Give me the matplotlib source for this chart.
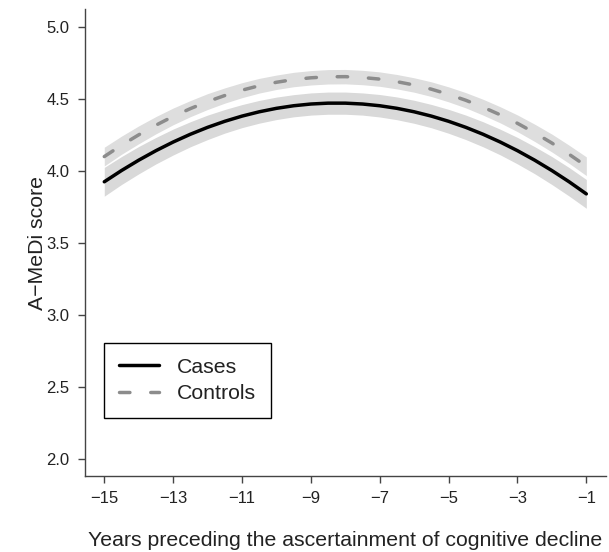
import matplotlib
matplotlib.use("Agg")
import numpy as np
import matplotlib.pyplot as plt

plt.rcParams['font.family'] = ['Liberation Sans', 'DejaVu Sans']

# years before diagnosis (half-year steps) and fitted A-MeDi scores
years = [-15, -14.5, -14, -13.5, -13, -12.5, -12, -11.5, -11, -10.5, -10,
         -9.5, -9, -8.5, -8, -7.5, -7, -6.5, -6, -5.5, -5, -4.5, -4, -3.5,
         -3, -2.5, -2, -1.5, -1]

cases_fit = [3.923, 4.001, 4.073, 4.139, 4.199, 4.253, 4.301, 4.343, 4.379,
             4.409, 4.433, 4.451, 4.463, 4.469, 4.469, 4.463, 4.451, 4.433,
             4.409, 4.379, 4.343, 4.301, 4.253, 4.199, 4.139, 4.073, 4.001,
             3.923, 3.839]
cases_hw = [0.100, 0.097, 0.095, 0.092, 0.090, 0.087, 0.085, 0.082, 0.080,
            0.079, 0.078, 0.077, 0.077, 0.077, 0.077, 0.077, 0.078, 0.079,
            0.080, 0.081, 0.083, 0.085, 0.087, 0.089, 0.092, 0.094, 0.097,
            0.099, 0.100]

controls_fit = [4.098, 4.177, 4.249, 4.316, 4.377, 4.431, 4.480, 4.522, 4.559,
                4.590, 4.614, 4.633, 4.645, 4.652, 4.653, 4.647, 4.636, 4.618,
                4.595, 4.566, 4.530, 4.489, 4.441, 4.388, 4.329, 4.263, 4.192,
                4.114, 4.031]
controls_hw = [0.065, 0.063, 0.062, 0.060, 0.058, 0.056, 0.055, 0.053, 0.052,
               0.051, 0.050, 0.050, 0.050, 0.050, 0.050, 0.050, 0.050, 0.050,
               0.050, 0.051, 0.052, 0.053, 0.055, 0.056, 0.058, 0.060, 0.062,
               0.063, 0.065]

xticks = [-15, -13, -11, -9, -7, -5, -3, -1]
yticks = [2.0, 2.5, 3.0, 3.5, 4.0, 4.5, 5.0]

cf, ch = np.array(cases_fit), np.array(cases_hw)
kf, kh = np.array(controls_fit), np.array(controls_hw)

fig = plt.figure(figsize=(6.09, 5.52), dpi=100)
ax = fig.add_axes([85 / 609, 76 / 552, 520.6 / 609, 466.6 / 552])

# confidence bands
ax.fill_between(years, cf - ch, cf + ch, color='#d9d9d9', lw=0)
ax.fill_between(years, kf - kh, kf + kh, color='#dedede', lw=0)

ax.plot(years, cases_fit, color='black', lw=2.5, label='Cases',
        solid_capstyle='round')
ax.plot(years, controls_fit, color='#8c8c8c', lw=2.5, label='Controls',
        dashes=(3, 6), dash_capstyle='round')

ax.set_xlim(-15.56, -0.44)
ax.set_ylim(1.88, 5.12)
ax.set_xticks(xticks)
ax.set_xticklabels([str(t).replace('-', '\u2212') for t in xticks])
ax.set_yticks(yticks)
ax.set_yticklabels([f'{t:.1f}' for t in yticks])

for side in ['top', 'right']:
    ax.spines[side].set_visible(False)
for side in ['left', 'bottom']:
    ax.spines[side].set_color('#444444')
    ax.spines[side].set_linewidth(1.0)

ax.tick_params(direction='out', length=5, width=1, color='#444444',
               labelsize=12, labelcolor='#222222', pad=6)

ax.set_xlabel('Years preceding the ascertainment of cognitive decline',
              fontsize=15.3, color='#222222', labelpad=18)
ax.set_ylabel('A\u2212MeDi score', fontsize=15.3, color='#222222', labelpad=0)

leg = ax.legend(loc='upper left', bbox_to_anchor=(104 / 609, 1 - 343 / 552),
                bbox_transform=fig.transFigure, borderaxespad=0,
                fontsize=15.3, frameon=True, fancybox=False, framealpha=1,
                edgecolor='black', borderpad=0.7, handlelength=1.9,
                handletextpad=0.85, labelspacing=0.35)
leg.get_frame().set_linewidth(1.0)
for t in leg.get_texts():
    t.set_color('#222222')

fig.savefig('out.png', dpi=100)
